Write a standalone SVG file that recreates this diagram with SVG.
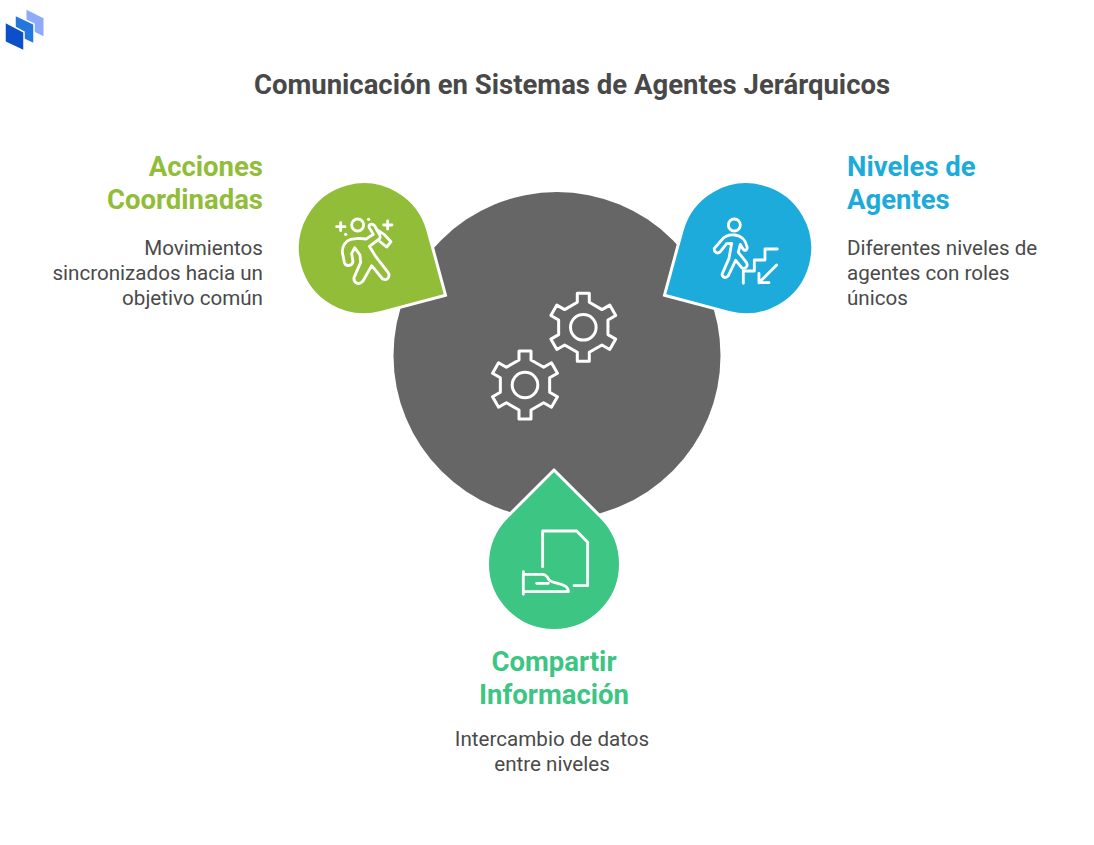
<svg xmlns="http://www.w3.org/2000/svg" width="1094" height="845" viewBox="0 0 1094 845">
<style>
text{font-family:Roboto,"Liberation Sans",sans-serif}
.t{font-size:27.5px;font-weight:700;fill:#484848}
.h{font-size:27.5px;font-weight:700}
.b{font-size:20.6px;fill:#4a4a4a}
.e{text-anchor:end}.m{text-anchor:middle}
.drop{stroke:#fff;stroke-width:3;stroke-linejoin:miter}
.i{fill:none;stroke:#fff;stroke-width:3;stroke-linecap:round;stroke-linejoin:round}
.z{fill:none;stroke:#fff;stroke-width:8.5;stroke-linecap:round;stroke-linejoin:round}
</style>
<defs>
<path id="gear" d="M-6-25V-34H6V-25L18.65-17.7 26.44-22.2 32.44-11.8 24.65-7.3V7.3L32.44 11.8 26.44 22.2 18.65 17.7 6 25V34H-6V25L-18.65 17.7-26.44 22.2-32.44 11.8-24.65 7.3V-7.3L-32.44-11.8-26.44-22.2-18.65-17.7Z"/>
</defs>
<g id="logo">
<polygon points="26,9 44,18 44,37 26,28" fill="#8eaafa" stroke="#fff" stroke-width="1"/>
<polygon points="15,15 34,24 34,44 15,35" fill="#2478dc" stroke="#fff" stroke-width="1.5"/>
<polygon points="5,22 24,32 24,51 5,42" fill="#0b4fc9" stroke="#fff" stroke-width="1.5"/>
</g>
<text class="t m" x="572" y="94">Comunicación en Sistemas de Agentes Jerárquicos</text>
<g id="center">
<circle cx="557" cy="355.5" r="163.5" fill="#666"/>
<g class="i"><use href="#gear" x="583.3" y="327.3"/><circle cx="583.3" cy="327.3" r="12.8"/><use href="#gear" x="525" y="385"/><circle cx="525" cy="385" r="12.8"/></g>
</g>
<g id="node-acciones">
<path class="drop" fill="#92bd39" d="M445.5 295.2L381.1 312.4A66.5 66.5 0 1 1 428.1 231Z"/>
<g transform="translate(290 175) scale(.3333)">
<circle class="z" cx="203" cy="150" r="18"/>
<path class="z" d="M140 155H165M152 143V167M281 150H306M293 138V162"/>
<circle cx="167" cy="178" r="5" fill="#fff"/><circle cx="236" cy="133" r="5" fill="#fff"/>
<path class="z" d="M238 158L250 178 228 192 205 190 182 193C166 198 156 214 157 232L163 262C167 276 186 274 189 260L185 236 194 218 210 240 212 262 192 308C190 324 208 332 219 318L245 272 278 312C292 318 302 306 294 292L258 246 238 214 268 192C274 186 268 176 262 168L254 152C246 144 234 148 238 158Z"/>
<path class="z" d="M262 165L282 178 303 200 290 216 270 200"/>
</g>
<text class="h e" x="263" y="175.500" fill="#92bd39">Acciones</text>
<text class="h e" x="263" y="208.500" fill="#92bd39">Coordinadas</text>
<text class="b e" x="263" y="255">Movimientos</text>
<text class="b e" x="263" y="280">sincronizados hacia un</text>
<text class="b e" x="263" y="305">objetivo común</text>
</g>
<g id="node-niveles">
<path class="drop" fill="#1cabdb" d="M664.5 295.2L728.9 312.4A66.5 66.5 0 1 0 681.9 231Z"/>
<g transform="translate(655 175) scale(.3333)">
<circle class="z" cx="238" cy="150" r="18"/>
<path class="z" d="M240 180C222 178 208 184 200 195L178 220C176 232 188 238 196 230L215 206 230 205 222 250 201 298C204 310 214 310 220 302L242 256 262 280C274 282 280 272 274 262L250 232 256 208 264 222C272 232 278 222 276 215 272 195 258 182 240 180Z"/>
<path class="z" d="M265 325V288H298V255H330V222H367M365 270L312 323M312 295V323H342"/>
</g>
<text class="h" x="847" y="175.500" fill="#1cabdb">Niveles de</text>
<text class="h" x="847" y="208.500" fill="#1cabdb">Agentes</text>
<text class="b" x="847" y="255">Diferentes niveles de</text>
<text class="b" x="847" y="280">agentes con roles</text>
<text class="b" x="847" y="305">únicos</text>
</g>
<g id="node-compartir">
<path class="drop" fill="#3cc583" d="M554 470L601 517A66.5 66.5 0 1 1 507 517Z"/>
<g transform="translate(480 465) scale(.3333)">
<path class="z" d="M188 305V198H290L323 232V362H282"/>
<path class="z" d="M130 320V388M132 328H188C198 328 204 338 208 346 214 352 232 354 244 358 258 362 265 370 265 380H132M170 355H205"/>
</g>
<text class="h m" x="554" y="671" fill="#3cc583">Compartir</text>
<text class="h m" x="554" y="704" fill="#3cc583">Información</text>
<text class="b m" x="552" y="746">Intercambio de datos</text>
<text class="b m" x="552" y="771">entre niveles</text>
</g>
<g id="connectors"/>
</svg>
